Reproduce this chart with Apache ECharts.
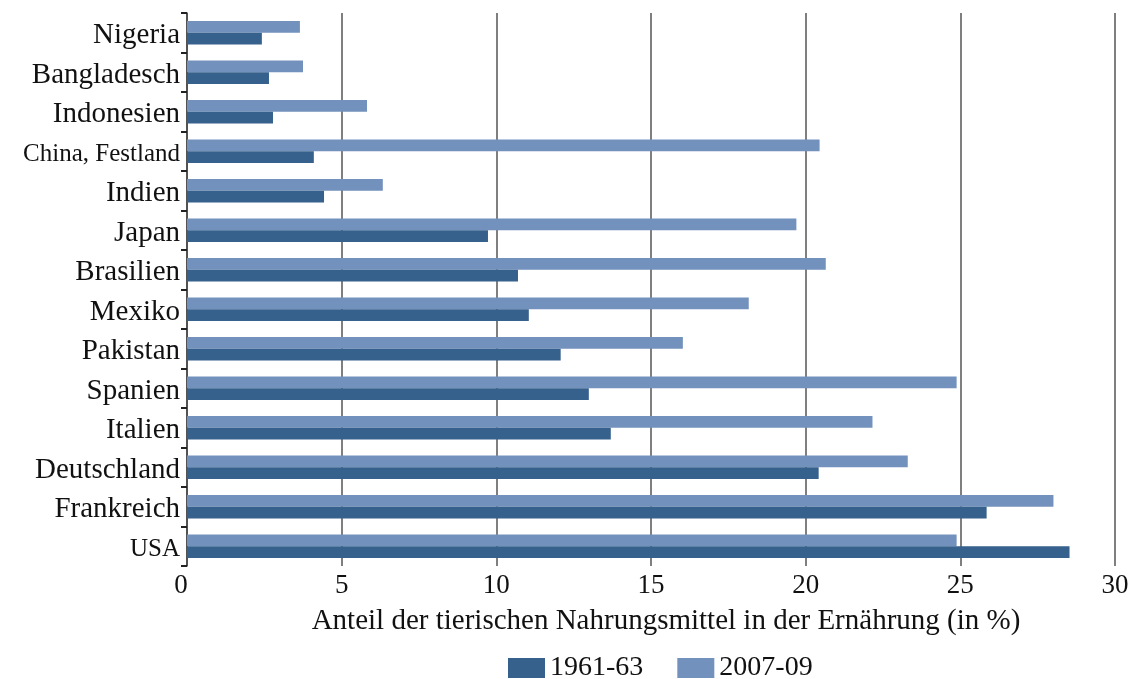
<!DOCTYPE html>
<html><head><meta charset="utf-8">
<script src="https://cdn.jsdelivr.net/npm/echarts@6/dist/echarts.min.js"></script>
<style>html,body{margin:0;padding:0;background:#fff}#c{width:1140px;height:679px}</style>
</head><body><div id="c"></div>
<script>
const categories = ['Nigeria','Bangladesch','Indonesien','China, Festland','Indien','Japan','Brasilien','Mexiko','Pakistan','Spanien','Italien','Deutschland','Frankreich','USA'];
const values1961 = [2.42, 2.65, 2.78, 4.1, 4.43, 9.73, 10.7, 11.05, 12.08, 12.99, 13.7, 20.42, 25.85, 28.53];
const values2007 = [3.65, 3.75, 5.82, 20.45, 6.33, 19.7, 20.65, 18.16, 16.03, 24.88, 22.16, 23.3, 28.01, 24.88];
const xTicks = [0, 5, 10, 15, 20, 25, 30];
const axisTitle = 'Anteil der tierischen Nahrungsmittel in der Ernährung (in %)';
const seriesNames = ['1961-63', '2007-09'];

const serif = '"Liberation Serif", "DejaVu Serif", serif';
const chart = echarts.init(document.getElementById('c'));
chart.setOption({
  animation: false,
  textStyle: { fontFamily: serif },
  grid: { left: 187, right: 25, top: 13, bottom: 113 },
  legend: {
    data: seriesNames,
    top: 649,
    left: 503,
    itemWidth: 37, itemHeight: 20, itemGap: 34,
    textStyle: { fontFamily: serif, fontSize: 28, color: '#111', padding: [0, 0, 0, 0] },
    icon: 'rect'
  },
  xAxis: {
    type: 'value', min: xTicks[0], max: xTicks[xTicks.length - 1], interval: 5,
    name: axisTitle, nameLocation: 'middle', nameGap: 41,
    nameTextStyle: { fontFamily: serif, fontSize: 29, color: '#111', padding: [0, 0, 0, 30] },
    axisLine: { show: false }, axisTick: { show: false },
    axisLabel: {
      fontFamily: serif, fontSize: 27, color: '#111', margin: 6,
      formatter: function (v) { return v === 0 ? '{z|0}' : String(v); },
      rich: { z: { fontSize: 27, fontFamily: serif, color: '#111', padding: [0, 12, 0, 0] } }
    },
    splitLine: { show: true, lineStyle: { color: '#555', width: 1.5 } }
  },
  yAxis: {
    type: 'category', data: categories, inverse: true,
    axisLine: { show: true, lineStyle: { color: '#444', width: 1.5 } },
    axisTick: { show: true, length: 6, lineStyle: { color: '#222', width: 2 } },
    axisLabel: {
      margin: 7, color: '#111', fontFamily: serif,
      fontSize: 29, padding: [6, 0, 0, 0],
      formatter: function (v) {
        if (v === 'China, Festland') return '{s|' + v + '}';
        if (v === 'USA') return '{u|' + v + '}';
        return v;
      },
      rich: {
        s: { fontSize: 25, fontFamily: serif, color: '#111' },
        u: { fontSize: 25, fontFamily: serif, color: '#111' }
      }
    }
  },
  series: [
    { name: seriesNames[1], type: 'bar', data: values2007, barGap: '0%', barCategoryGap: '40%',
      itemStyle: { color: '#7391bd' } },
    { name: seriesNames[0], type: 'bar', data: values1961, barGap: '0%', barCategoryGap: '40%',
      itemStyle: { color: '#36618c' } }
  ]
});
</script></body></html>
